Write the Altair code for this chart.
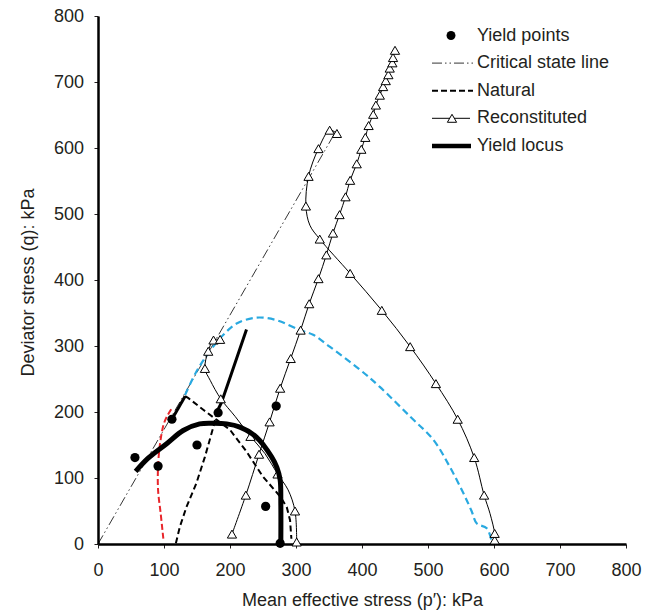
import altair as alt
import pandas as pd

# ---------------- data ----------------
csl_p = [0, 362]
csl_q = [0, 628]

yield_p = [56, 91, 112, 150, 182, 270, 254, 276]
yield_q = [131, 118, 189, 150, 199, 209, 57, 1]

locus_p = [57, 76, 104, 129, 154, 175, 195, 215, 240, 263, 271, 276, 277, 277]
locus_q = [110, 130, 152, 172, 182, 183, 182, 177, 162, 132, 116, 97, 60, 0]

nat1_dash_p = [118, 124, 134, 149, 162, 175, 180]
nat1_dash_q = [1, 26, 56, 92, 132, 178, 200]
nat1_solid_p = [180, 187, 200, 225]
nat1_solid_q = [200, 214, 252, 325]

nat2_solid_p = [112, 132]
nat2_solid_q = [189, 224]
nat2_dash_p = [132, 137, 160, 180, 200, 225, 250, 276, 286, 291, 293]
nat2_dash_q = [224, 221, 203, 188, 173, 140, 102, 72, 56, 36, 8]

red_p = [99, 95, 91, 91, 94, 100, 106, 112]
red_q = [8, 46, 82, 117, 152, 183, 196, 206]

blue_p = [132, 149, 167, 190, 210, 240, 271, 306, 326, 351, 397, 427, 473, 508, 533, 556, 566, 574, 589, 596]
blue_q = [226, 261, 289, 317, 334, 343, 339, 324, 317, 299, 264, 238, 193, 158, 117, 72, 50, 31, 24, 6]

recA_p = [301, 298.5, 288, 272, 253, 231, 208, 186, 170, 162, 167, 175, 185]
recA_q = [3, 50, 82, 106, 137, 163, 193, 220, 248, 266, 292, 309, 310]
recA_m = [1, 1, 0, 1, 0, 1, 0, 1, 0, 1, 1, 1, 1]

recB_p = [601, 601, 594, 585, 570, 545, 512, 473, 430, 382, 336, 321, 315, 319, 334, 351, 362]
recB_q = [6, 16, 46, 74, 131, 189, 243, 299, 354, 410, 462, 483, 512, 557, 599, 627, 622]
recB_m = [1, 1, 0, 1, 1, 1, 1, 1, 1, 1, 1, 0, 1, 1, 1, 1, 1]

recC_p = [203, 224, 244, 260, 276, 292, 307, 320, 334, 346, 356, 366, 375, 382, 392, 399,
          405, 410, 417, 421, 427, 432, 436, 440, 442, 446, 447, 450]
recC_q = [15, 74, 136, 185, 236, 281, 324, 364, 402, 438, 471, 499, 526, 551, 576, 598,
          616, 634, 651, 665, 680, 693, 702, 711, 721, 729, 737, 748]

legend_labels = ["Yield points", "Critical state line", "Natural", "Reconstituted", "Yield locus"]
x_ticks = [0, 100, 200, 300, 400, 500, 600, 700, 800]
y_ticks = [0, 100, 200, 300, 400, 500, 600, 700, 800]

# ---------------- helpers ----------------
FONT = "Liberation Sans"
TXT = "#231f20"


def frame(p, q, m=None):
    d = {"p": p, "q": q, "i": list(range(len(p)))}
    if m is not None:
        d["m"] = m
    return pd.DataFrame(d)


xs = alt.Scale(domain=[0, 800], nice=False, zero=False)
ys = alt.Scale(domain=[0, 800], nice=False, zero=False)

X = alt.X("p:Q", scale=xs, axis=alt.Axis(
    values=x_ticks, title="Mean effective stress (p′): kPa", labelFlush=False,
    labelPadding=13, titleY=61, titleBaseline="alphabetic"))
Y = alt.Y("q:Q", scale=ys, axis=alt.Axis(
    values=y_ticks, title="Deviator stress (q): kPa", labelPadding=10.5,
    titleX=-65, titleY=266, titleAngle=270, titleBaseline="alphabetic", titleAlign="center"))


def line(p, q, **kw):
    return alt.Chart(frame(p, q)).mark_line(**kw).encode(x=X, y=Y, order="i:Q")


layers = []
layers.append(line(csl_p, csl_q, color="black", strokeWidth=0.8, strokeDash=[10, 3, 1.5, 3, 1.5, 3]))
layers.append(line(blue_p, blue_q, color="#29a9e0", strokeWidth=2.2, strokeDash=[7, 4], interpolate="catmull-rom"))
layers.append(line(red_p, red_q, color="#e8262b", strokeWidth=2, strokeDash=[6, 3], interpolate="catmull-rom"))
layers.append(line(nat1_dash_p, nat1_dash_q, color="black", strokeWidth=2, strokeDash=[6, 3.5]))
layers.append(line(nat1_solid_p, nat1_solid_q, color="black", strokeWidth=3))
layers.append(line(nat2_solid_p, nat2_solid_q, color="black", strokeWidth=3))
layers.append(line(nat2_dash_p, nat2_dash_q, color="black", strokeWidth=2, strokeDash=[6, 3.5]))

for rp, rq, rm in [(recA_p, recA_q, recA_m), (recB_p, recB_q, recB_m), (recC_p, recC_q, [1] * len(recC_p))]:
    df = frame(rp, rq, rm)
    layers.append(alt.Chart(df).mark_line(color="black", strokeWidth=1, interpolate="catmull-rom")
                  .encode(x=X, y=Y, order="i:Q"))
    layers.append(alt.Chart(df).transform_filter("datum.m == 1")
                  .mark_point(shape="triangle-up", filled=True, fill="white", stroke="black",
                              strokeWidth=1, size=85, opacity=1)
                  .encode(x=X, y=Y))

layers.append(line(locus_p, locus_q, color="black", strokeWidth=5, interpolate="catmull-rom"))
layers.append(alt.Chart(frame(yield_p, yield_q)).mark_point(
    shape="circle", filled=True, color="black", size=85, opacity=1).encode(x=X, y=Y))

# ---------------- legend (drawn by hand) ----------------
LX0, LX1, LTX = 334, 375, 379
rows = [19.5 + 27.6 * k for k in range(5)]
one = pd.DataFrame({"a": [0]})
for k, lab in enumerate(legend_labels):
    layers.append(alt.Chart(pd.DataFrame({"t": [lab]})).mark_text(
        align="left", baseline="middle", font=FONT, fontSize=18, color=TXT)
        .encode(x=alt.value(LTX), y=alt.value(rows[k]), text="t:N"))

layers.append(alt.Chart(one).mark_point(shape="circle", filled=True, color="black", size=80, opacity=1)
              .encode(x=alt.value(353), y=alt.value(rows[0])))
layers.append(alt.Chart(one).mark_rule(color="black", strokeWidth=0.8, strokeDash=[10, 3, 1.5, 3, 1.5, 3])
              .encode(x=alt.value(LX0), x2=alt.value(LX1), y=alt.value(rows[1])))
layers.append(alt.Chart(one).mark_rule(color="black", strokeWidth=2, strokeDash=[6, 3])
              .encode(x=alt.value(LX0), x2=alt.value(LX1), y=alt.value(rows[2])))
layers.append(alt.Chart(one).mark_rule(color="black", strokeWidth=1)
              .encode(x=alt.value(LX0), x2=alt.value(LX1 - 3), y=alt.value(rows[3])))
layers.append(alt.Chart(one).mark_point(shape="triangle-up", filled=True, fill="white", stroke="black",
                                        strokeWidth=1, size=85, opacity=1)
              .encode(x=alt.value(354), y=alt.value(rows[3])))
layers.append(alt.Chart(one).mark_rule(color="black", strokeWidth=4.5)
              .encode(x=alt.value(LX0), x2=alt.value(LX1 - 2), y=alt.value(rows[4])))

chart = alt.layer(*layers).properties(
    width=528, height=528,
    padding={"left": 98, "top": 16, "right": 23, "bottom": 66},
    autosize=alt.AutoSizeParams(type="none"),
    background="white",
).configure_view(stroke=None).configure_axis(
    grid=False, domainColor="black", domainWidth=2.5, tickColor=TXT, tickSize=4, tickWidth=1,
    labelFont=FONT, labelFontSize=18, labelColor=TXT,
    titleFont=FONT, titleFontSize=18, titleFontWeight="normal", titleColor=TXT,
)

chart.save("out.html", embed_options={"renderer": "svg", "actions": False})
